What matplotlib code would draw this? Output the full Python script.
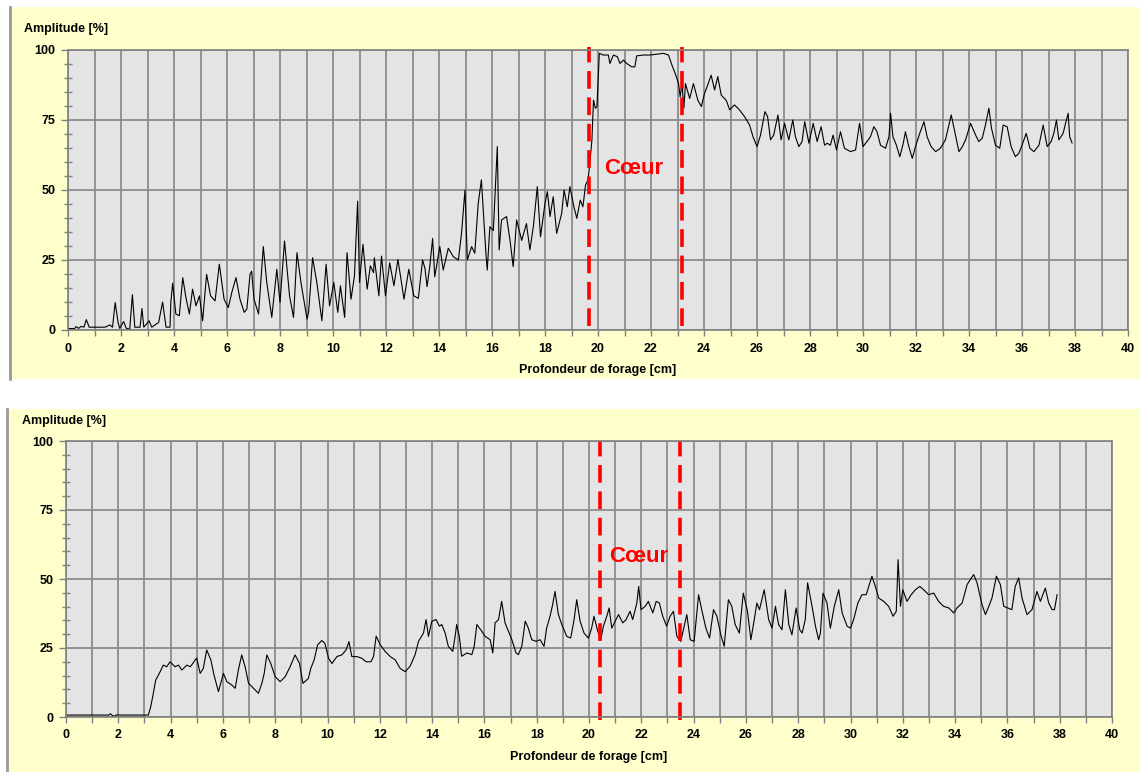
import matplotlib
matplotlib.use('Agg')  # no display
import matplotlib.pyplot as plt
from matplotlib.patches import Rectangle
from matplotlib.lines import Line2D
from matplotlib.ticker import MultipleLocator

plt.rcParams['font.family'] = ['Liberation Sans', 'DejaVu Sans']

# --- data (depth in cm, amplitude in %) ---
top_depth = [0.0, 0.25, 0.3, 0.4, 0.5, 0.6, 0.69, 0.8, 1.4, 1.58, 1.68, 1.78, 1.89, 1.95, 2.1, 2.2,
             2.33, 2.43, 2.52, 2.72, 2.79, 2.86, 3.06, 3.16, 3.42, 3.57, 3.7, 3.85, 3.88, 3.95, 4.07,
             4.2, 4.33, 4.45, 4.58, 4.7, 4.83, 4.96, 5.08, 5.23, 5.38, 5.55, 5.71, 5.89, 6.05, 6.18,
             6.34, 6.49, 6.65, 6.75, 6.87, 6.93, 7.02, 7.19, 7.37, 7.5, 7.69, 7.88, 8.0, 8.17, 8.36,
             8.51, 8.64, 8.79, 9.02, 9.08, 9.23, 9.39, 9.58, 9.74, 9.87, 10.03, 10.18, 10.28, 10.44,
             10.53, 10.68, 10.81, 10.93, 11.0, 11.13, 11.29, 11.41, 11.53, 11.56, 11.73, 11.83, 11.98,
             12.14, 12.3, 12.45, 12.68, 12.86, 13.05, 13.22, 13.38, 13.47, 13.55, 13.65, 13.76, 13.84,
             14.03, 14.16, 14.35, 14.54, 14.73, 14.85, 14.98, 15.07, 15.23, 15.35, 15.48, 15.6, 15.77,
             15.82, 15.92, 16.05, 16.2, 16.27, 16.36, 16.55, 16.68, 16.8, 16.93, 17.12, 17.3, 17.43,
             17.56, 17.71, 17.83, 18.0, 18.09, 18.19, 18.31, 18.44, 18.63, 18.72, 18.84, 18.94, 19.09,
             19.2, 19.33, 19.43, 19.53, 19.62, 19.68, 19.77, 19.83, 19.9, 19.96, 20.05, 20.2, 20.39,
             20.45, 20.58, 20.73, 20.83, 20.96, 21.08, 21.27, 21.39, 21.46, 21.71, 21.96, 22.47, 22.66,
             22.79, 22.91, 23.04, 23.1, 23.17, 23.24, 23.3, 23.46, 23.6, 23.77, 23.9, 24.02, 24.14,
             24.27, 24.4, 24.52, 24.65, 24.84, 24.97, 25.15, 25.34, 25.53, 25.72, 25.85, 26.0, 26.13,
             26.3, 26.4, 26.51, 26.63, 26.79, 26.91, 27.04, 27.2, 27.35, 27.45, 27.58, 27.7, 27.8,
             27.96, 28.12, 28.27, 28.42, 28.55, 28.65, 28.77, 28.87, 29.0, 29.15, 29.3, 29.53, 29.72,
             29.87, 30.0, 30.15, 30.28, 30.41, 30.53, 30.66, 30.85, 30.98, 31.04, 31.13, 31.26, 31.39,
             31.52, 31.6, 31.73, 31.86, 31.98, 32.14, 32.3, 32.42, 32.57, 32.74, 32.92, 33.11, 33.33,
             33.45, 33.62, 33.75, 33.87, 34.06, 34.25, 34.37, 34.5, 34.62, 34.75, 34.85, 35.0, 35.16,
             35.29, 35.44, 35.59, 35.75, 35.88, 36.0, 36.16, 36.3, 36.45, 36.64, 36.8, 36.95, 37.1,
             37.2, 37.3, 37.39, 37.55, 37.74, 37.8, 37.89]
top_amp = [0.5, 0.5, 1.2, 0.6, 1.3, 1.0, 3.7, 1.0, 1.0, 1.8, 1.0, 9.8, 2.7, 0.6, 3.0, 0.6,
           0.3, 12.6, 1.0, 1.0, 7.7, 1.0, 3.3, 1.0, 2.7, 10.0, 1.0, 1.0, 9.8, 16.7, 5.7,
           5.1, 18.7, 11.6, 5.7, 14.6, 8.6, 12.2, 3.3, 19.9, 12.2, 10.4, 23.5, 11.0, 8.0, 13.4,
           18.7, 11.0, 6.3, 7.5, 19.9, 21.0, 11.0, 5.7, 29.8, 17.0, 4.5, 21.7, 9.8, 31.8, 12.2,
           4.5, 27.6, 17.0, 3.9, 6.3, 25.8, 17.0, 3.3, 23.5, 8.6, 17.0, 6.3, 15.8, 4.5,
           27.6, 11.0, 19.3, 46.0, 17.0, 30.6, 14.6, 22.9, 20.5, 25.8, 12.2, 26.4, 12.2,
           24.0, 15.8, 25.2, 11.0, 21.7, 12.2, 11.3, 25.0, 22.0, 15.5, 22.6, 32.7, 19.0,
           29.8, 21.4, 29.2, 26.2, 25.0, 34.5, 50.0, 25.0, 29.8, 27.4, 45.2, 53.6, 27.4,
           21.4, 36.9, 35.5, 65.5, 28.6, 39.3, 40.5, 32.0, 22.6, 39.3, 32.0, 38.0, 28.6,
           36.9, 51.2, 33.3, 45.2, 49.4, 40.5, 47.6, 34.5, 41.7, 50.0, 44.0, 51.2, 44.0,
           39.9, 46.4, 44.0, 51.8, 53.6, 58.3, 67.9, 82.1, 79.2, 79.8, 98.8, 98.2, 98.2,
           95.2, 98.2, 97.6, 95.2, 96.4, 95.2, 94.0, 94.0, 97.9, 98.2, 98.2, 98.8, 98.2,
           94.6, 91.7, 88.0, 83.3, 88.0, 79.2, 88.0, 82.7, 88.0, 82.0, 79.8, 84.5, 87.5,
           91.0, 85.7, 90.5, 83.9, 82.0, 78.6, 80.4, 78.6, 76.2, 73.2, 69.0, 65.5, 69.5,
           78.0, 76.2, 67.9, 69.6, 76.8, 67.9, 73.8, 67.9, 75.0, 69.0, 65.5, 67.3, 74.4,
           66.7, 73.8, 67.3, 72.6, 66.0, 66.7, 66.0, 69.6, 64.3, 70.8, 64.9, 63.7, 64.3,
           73.8, 65.5, 67.3, 69.0, 72.6, 70.8, 66.0, 64.9, 69.0, 77.4, 69.0, 66.0, 61.9,
           66.7, 70.8, 65.5, 61.3, 65.5, 70.2, 74.4, 69.0, 65.5, 63.7, 64.9, 67.9, 76.8,
           71.4, 63.7, 65.5, 67.9, 73.8, 69.6, 67.3, 68.5, 73.2, 79.2, 72.0, 66.0, 64.9,
           73.2, 72.6, 65.5, 61.9, 63.1, 66.0, 70.2, 64.9, 63.7, 66.0, 73.2, 65.5, 67.3,
           70.2, 75.0, 67.9, 70.2, 77.4, 69.0, 66.8]

bottom_depth = [0.0, 1.65, 1.7, 1.75, 1.85, 1.9, 3.15, 3.24, 3.34, 3.43, 3.5, 3.6, 3.72, 3.85, 3.98,
                4.17, 4.3, 4.43, 4.62, 4.75, 4.85, 4.94, 5.0, 5.13, 5.25, 5.38, 5.54, 5.66, 5.83, 6.02,
                6.15, 6.34, 6.47, 6.59, 6.72, 6.85, 6.98, 7.17, 7.36, 7.49, 7.58, 7.68, 7.83, 8.0, 8.19,
                8.38, 8.57, 8.76, 8.93, 9.06, 9.27, 9.36, 9.49, 9.62, 9.78, 9.9, 10.04, 10.17, 10.36,
                10.55, 10.71, 10.82, 10.93, 11.12, 11.31, 11.48, 11.66, 11.76, 11.86, 12.02, 12.21,
                12.4, 12.59, 12.78, 12.97, 13.16, 13.35, 13.48, 13.67, 13.77, 13.86, 13.99, 14.15,
                14.28, 14.37, 14.5, 14.62, 14.79, 14.88, 14.94, 15.04, 15.13, 15.33, 15.52, 15.61,
                15.71, 15.86, 16.03, 16.22, 16.32, 16.41, 16.54, 16.66, 16.79, 16.92, 17.05, 17.21,
                17.3, 17.43, 17.56, 17.68, 17.81, 17.98, 18.13, 18.28, 18.38, 18.51, 18.61, 18.7,
                18.83, 18.96, 19.15, 19.3, 19.43, 19.53, 19.66, 19.81, 19.98, 20.1, 20.19, 20.32,
                20.45, 20.55, 20.68, 20.77, 20.87, 21.0, 21.13, 21.29, 21.42, 21.57, 21.67, 21.83,
                21.9, 21.99, 22.15, 22.27, 22.44, 22.57, 22.69, 22.82, 22.97, 23.1, 23.23, 23.36,
                23.51, 23.64, 23.74, 23.87, 24.02, 24.19, 24.31, 24.47, 24.61, 24.76, 24.89, 25.04,
                25.17, 25.33, 25.46, 25.59, 25.75, 25.9, 26.06, 26.19, 26.32, 26.42, 26.52, 26.7,
                26.87, 27.0, 27.13, 27.25, 27.38, 27.51, 27.64, 27.76, 27.92, 28.06, 28.15, 28.27,
                28.36, 28.53, 28.66, 28.78, 28.85, 28.95, 29.1, 29.23, 29.38, 29.55, 29.68, 29.87,
                30.0, 30.12, 30.28, 30.44, 30.6, 30.7, 30.82, 30.95, 31.08, 31.27, 31.46, 31.63,
                31.75, 31.82, 31.91, 32.0, 32.16, 32.32, 32.48, 32.65, 32.8, 32.99, 33.18, 33.37,
                33.56, 33.76, 33.95, 34.07, 34.27, 34.46, 34.58, 34.71, 34.84, 35.03, 35.16, 35.29,
                35.41, 35.58, 35.73, 35.86, 36.01, 36.17, 36.3, 36.43, 36.56, 36.75, 36.94, 37.13,
                37.26, 37.45, 37.58, 37.71, 37.8, 37.9]
bottom_amp = [0.7, 0.7, 1.2, 0.7, 0.2, 0.7, 0.7, 3.7, 8.6, 13.4, 14.6, 16.4, 18.8, 18.2, 20.0,
              18.2, 18.8, 17.0, 18.8, 18.2, 19.4, 20.7, 21.3, 15.8, 17.6, 24.3, 20.7, 15.2, 9.2, 15.8,
              12.8, 11.6, 10.4, 17.0, 22.5, 18.2, 12.2, 10.4, 8.6, 12.2, 15.8, 22.5, 19.4, 14.6, 12.8,
              14.6, 18.2, 22.5, 19.4, 12.2, 14.0, 17.6, 20.7, 26.1, 27.7, 26.7, 21.3, 19.4, 21.9,
              22.5, 24.3, 27.3, 21.9, 21.9, 21.3, 20.0, 20.0, 21.9, 29.3, 26.1, 23.7,
              21.9, 20.7, 17.6, 16.4, 18.4, 22.6, 27.4, 30.4, 35.3, 29.2, 34.7, 35.3,
              32.9, 33.5, 30.4, 25.6, 23.8, 29.2, 33.5, 29.2, 22.0, 23.2, 22.6, 25.6,
              33.5, 31.6, 29.2, 28.0, 23.2, 34.1, 35.3, 41.9, 34.1, 31.0, 28.0, 23.2,
              22.6, 25.6, 34.7, 32.2, 28.0, 27.4, 28.0, 25.6, 32.2, 36.5, 40.7, 45.5,
              37.1, 33.5, 29.2, 28.6, 35.3, 42.5, 34.7, 30.4, 28.6, 32.2, 36.5, 31.6,
              28.0, 32.9, 36.5, 39.5, 32.2, 34.7, 37.1, 34.1, 35.3, 38.3, 35.3, 41.3,
              47.3, 38.9, 40.1, 41.9, 37.7, 41.9, 41.3, 36.5, 32.9, 36.5, 38.3, 29.2,
              27.4, 32.9, 37.1, 28.0, 27.4, 44.3, 38.9, 32.2, 28.6, 38.9, 36.5, 29.8,
              25.6, 42.5, 40.1, 33.5, 30.4, 44.9, 38.3, 28.0, 35.3, 41.3, 38.9, 46.1,
              35.3, 32.2, 40.1, 33.5, 31.6, 46.1, 33.5, 29.8, 39.5, 31.6, 30.4, 35.3,
              48.6, 40.1, 32.9, 28.0, 30.4, 44.9, 41.3, 32.2, 40.1, 46.1, 37.7, 32.9,
              32.2, 35.3, 41.3, 44.3, 44.3, 47.3, 51.0, 47.3, 43.1, 41.9, 40.1, 36.5,
              38.3, 57.0, 40.1, 46.1, 41.9, 44.3, 46.1, 47.3, 46.1, 44.3, 44.9, 41.9,
              40.1, 39.5, 37.7, 39.5, 41.3, 48.0, 49.8, 51.6, 48.6, 40.7, 37.1, 40.1,
              43.1, 51.0, 48.0, 40.1, 39.5, 38.9, 47.3, 50.4, 43.1, 37.1, 38.9, 45.5,
              41.9, 46.7, 41.3, 38.9, 38.9, 44.3]

top_core = [19.66, 23.16]
bottom_core = [20.41, 23.49]
core_label = 'Cœur'

W, H = 1140, 772
fig = plt.figure(figsize=(W / 100, H / 100), dpi=100)
fig.patch.set_facecolor('white')


def fx(px):
    return px / W


def fy(py):
    return 1 - py / H


def panel(x0, y0, y1):
    # yellow chart area with grey left border, kept behind the axes
    fig.patches.append(Rectangle((fx(x0), fy(y1)), 1 - fx(x0), fy(y0) - fy(y1),
                                 transform=fig.transFigure, facecolor='#FFFFCC',
                                 edgecolor='none', zorder=-2))
    fig.add_artist(Line2D([fx(x0), fx(x0)], [fy(y1), fy(y0)], transform=fig.transFigure,
                          color='#999999', lw=2, zorder=-1))


def style_axes(ax):
    ax.set_facecolor('#E4E4E4')
    ax.set_xlim(0, 40)
    ax.set_ylim(0, 100)
    ax.xaxis.set_major_locator(MultipleLocator(2))
    ax.xaxis.set_minor_locator(MultipleLocator(1))
    ax.yaxis.set_major_locator(MultipleLocator(25))
    ax.yaxis.set_minor_locator(MultipleLocator(5))
    ax.grid(which='major', color='#8C8C8C', lw=1.3)
    ax.grid(which='minor', axis='x', color='#8C8C8C', lw=1.3)
    ax.set_axisbelow(True)
    ax.tick_params(axis='x', which='both', direction='out', length=4, width=1,
                   color='#808080', pad=5, labelsize=9)
    ax.tick_params(axis='y', which='major', direction='out', length=5, width=1,
                   color='#808080', pad=4, labelsize=9)
    ax.tick_params(axis='y', which='minor', direction='inout', length=6, width=1,
                   color='#808080')
    for lab in ax.get_xticklabels() + ax.get_yticklabels():
        lab.set_fontweight('bold')
    for sp in ax.spines.values():
        sp.set_color('#808080')
        sp.set_linewidth(1.2)


dash = (0, (4.9, 2.4))

# top chart
panel(10, 7, 379)
ax1 = fig.add_axes([fx(68), fy(330), fx(1128) - fx(68), fy(50) - fy(330)])
style_axes(ax1)
ax1.plot(top_depth, top_amp, color='black', lw=0.8)
for d in top_core:
    ax1.axvline(d, ymin=0.015, ymax=1.012, color='#FF0000', lw=2.6, ls=dash, clip_on=False)
ax1.text(21.36, 57.5, core_label, color='#FF0000', fontsize=16, fontweight='bold',
         ha='center', va='center')
fig.text(fx(24), fy(29), 'Amplitude [%]', fontsize=9, fontweight='bold', va='center')
fig.text(fx(598), fy(370), 'Profondeur de forage [cm]', fontsize=9, fontweight='bold',
         ha='center', va='center')

# bottom chart
panel(7, 409, 772)
ax2 = fig.add_axes([fx(66), fy(717), fx(1112) - fx(66), fy(441) - fy(717)])
style_axes(ax2)
ax2.plot(bottom_depth, bottom_amp, color='black', lw=0.8)
for d in bottom_core:
    ax2.axvline(d, ymin=-0.01, ymax=1.0, color='#FF0000', lw=2.6, ls=dash, clip_on=False)
ax2.text(21.9, 58, core_label, color='#FF0000', fontsize=16, fontweight='bold',
         ha='center', va='center')
fig.text(fx(22), fy(421), 'Amplitude [%]', fontsize=9, fontweight='bold', va='center')
fig.text(fx(589), fy(757), 'Profondeur de forage [cm]', fontsize=9, fontweight='bold',
         ha='center', va='center')

fig.savefig('out.png', dpi=100)
